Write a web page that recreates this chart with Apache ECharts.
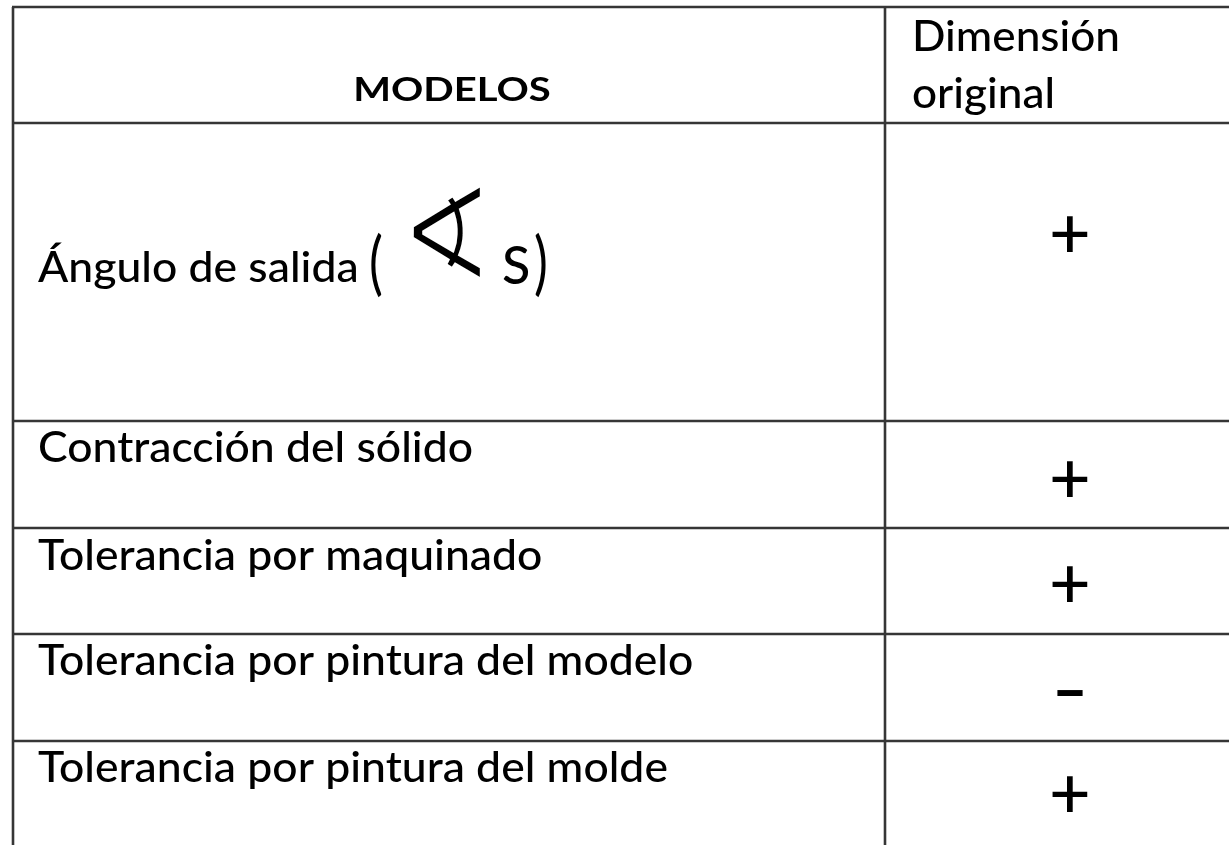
<!DOCTYPE html>
<html><head><meta charset="utf-8">
<script src="https://cdn.jsdelivr.net/npm/echarts@6/dist/echarts.min.js"></script>
<style>html,body{margin:0;padding:0;background:#fff}#c{width:1229px;height:845px}</style>
</head><body><div id="c"></div>
<script>
// ---- content ----
const headers = ['MODELOS', 'Dimensión\noriginal'];
const models = ['Ángulo de salida', 'Contracción del sólido', 'Tolerancia por maquinado', 'Tolerancia por pintura del modelo', 'Tolerancia por pintura del molde'];
const signs = ['+', '+', '+', '-', '+'];
const angleNote = ['(', '∢', 'S', ')'];

// ---- layout (page pixels) ----
const W = 1229, H = 845;
const frameTop = 7, frameLeft = 13, divider = 885;
const rowTops = [123, 421, 528, 634, 741];
const labelBase = [285, 465, 573, 678, 785];
const signCenter = [237, 482, 587, 694, 797];
const LINE = '#363636', LW = 2.6;
const FONT = 'Lato';
const LABEL_SIZE = 42, LABEL_SX = 1.06;
const MID = 0.387; // canvas 'middle' offset above baseline (em)

function txt(x, y, text, size, opts) {
  opts = opts || {};
  const s = {
    text: text, x: 0, y: 0, fill: opts.fill || '#000',
    fontSize: size, fontFamily: opts.family || FONT, fontWeight: opts.weight || 500,
    align: opts.align || 'left', verticalAlign: 'middle', lineHeight: opts.lh || size
  };
  if (opts.stroke) { s.stroke = opts.stroke; s.lineWidth = opts.strokeW; }
  return { type: 'text', x: x, y: y, scaleX: opts.sx || 1, scaleY: opts.sy || 1, silent: true, style: s };
}

function renderItem(params, api) {
  const i = params.dataIndex;
  const c = (x, y) => api.coord([x, y]);
  const top = rowTops[i];
  const a = c(0, top), b = c(W + 20, top);
  const children = [{
    type: 'line', shape: { x1: frameLeft - 1, y1: a[1], x2: b[0], y2: b[1] },
    style: { stroke: LINE, lineWidth: LW }
  }];
  const lp = c(38, labelBase[i] - MID * LABEL_SIZE);
  children.push(txt(lp[0], lp[1], models[i], LABEL_SIZE, { sx: LABEL_SX }));
  const sp = c(1070, signCenter[i]);
  const minus = signs[i] === '-';
  children.push(txt(sp[0], sp[1] - 2, signs[i], 72, { align: 'center', sx: minus ? 1.4 : 1 }));
  if (i === 0) {
    const pY = 265;
    const p1 = c(369, pY);
    children.push(txt(p1[0], p1[1], angleNote[0], 52, { sy: 1.34, weight: 'normal' }));
    const p2 = c(446, 246);
    const ang = { family: 'DejaVu Sans', weight: 'normal', align: 'center', sx: 1.13, sy: 1.32 };
    children.push(txt(p2[0], p2[1], angleNote[1], 100, ang));
    // thin the heavy glyph strokes with a white outline drawn on top
    children.push(txt(p2[0], p2[1], angleNote[1], 100, Object.assign({}, ang, { fill: 'none', stroke: '#fff', strokeW: 3.2 })));
    const p3 = c(502, 287 - MID * 52);
    children.push(txt(p3[0], p3[1], angleNote[2], 52));
    const p4 = c(534, pY);
    children.push(txt(p4[0], p4[1], angleNote[3], 52, { sy: 1.34, weight: 'normal' }));
  }
  return { type: 'group', children: children };
}

const chart = echarts.init(document.getElementById('c'), null, { renderer: 'canvas' });
chart.setOption({
  animation: false,
  backgroundColor: '#fff',
  grid: { left: 0, right: 0, top: 0, bottom: 0 },
  xAxis: { type: 'value', min: 0, max: W, show: false },
  yAxis: { type: 'value', min: 0, max: H, inverse: true, show: false },
  graphic: [
    { type: 'line', shape: { x1: frameLeft - 1, y1: frameTop, x2: W + 20, y2: frameTop }, style: { stroke: LINE, lineWidth: LW } },
    { type: 'line', shape: { x1: frameLeft, y1: frameTop, x2: frameLeft, y2: H + 20 }, style: { stroke: LINE, lineWidth: LW } },
    { type: 'line', shape: { x1: divider, y1: frameTop, x2: divider, y2: H + 20 }, style: { stroke: LINE, lineWidth: LW } },
    txt(452, 91, headers[0], 32, { align: 'center', sx: 1.25, weight: 'bold' }),
    txt(912, 52 - MID * LABEL_SIZE + 30.5, headers[1], LABEL_SIZE, { lh: 57, sx: 1.05 })
  ],
  series: [{
    type: 'custom', coordinateSystem: 'cartesian2d',
    renderItem: renderItem,
    data: models.map((m, i) => [i]),
    silent: true
  }]
});
</script></body></html>
